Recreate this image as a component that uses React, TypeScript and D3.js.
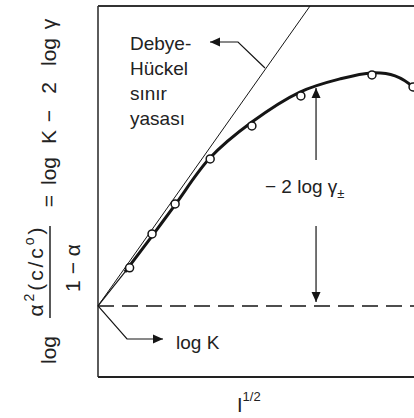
import React from "react";
import * as d3 from "d3";

// Experimental points: I^(1/2) vs log[α²(c/c°)/(1−α)] (arbitrary units)
const sqrtI = [0.1, 0.171, 0.244, 0.355, 0.487, 0.642, 0.867, 0.997];
const logQ = [0.127, 0.24, 0.34, 0.49, 0.6, 0.7, 0.77, 0.73];

// Smooth fitted curve through the data
const fitX = [0.085, 0.171, 0.244, 0.354, 0.487, 0.639, 0.766, 0.867, 0.94, 1.0, 1.03];
const fitY = [0.113, 0.233, 0.337, 0.493, 0.613, 0.713, 0.757, 0.777, 0.767, 0.727, 0.685];

// Debye–Hückel limiting law (straight line from log K)
const dhX = [0, 0.671];
const dhY = [0, 1];

const logK = 0;
const xDomain = [0, 1];
const yDomain = [-0.237, 1];

// y-axis label pieces, read bottom to top: [text, centre y, baseline x]
const yLabelWords: [string, number, number][] = [
  ["log", 350, 56],
  ["=", 201, 56],
  ["log", 171, 56],
  ["K", 137, 56],
  ["−", 116, 56],
  ["2", 88, 56],
  ["log", 52, 56],
  ["γ", 24, 56],
];

const W = 414;
const H = 418;

export default function App() {
  const x = d3.scaleLinear().domain(xDomain).range([98, 414]);
  const y = d3.scaleLinear().domain(yDomain).range([377, 6]);

  const line = d3
    .line<[number, number]>()
    .x((d) => x(d[0]))
    .y((d) => y(d[1]));
  const smooth = d3
    .line<[number, number]>()
    .x((d) => x(d[0]))
    .y((d) => y(d[1]))
    .curve(d3.curveCatmullRom.alpha(0.5));

  const fitPts: [number, number][] = fitX.map((v, i) => [v, fitY[i]]);
  const dhPts: [number, number][] = dhX.map((v, i) => [v, dhY[i]]);

  const x0 = x(0);
  const yK = y(logK);
  const arrowX = x(0.69);
  const font = "Liberation Sans, Arial, Helvetica, sans-serif";
  const ink = "#151515";

  return (
    <svg
      width={W}
      height={H}
      style={{ position: "absolute", left: 0, top: 0, background: "#fff" }}
      fontFamily={font}
    >
      <defs>
        <marker
          id="ah"
          viewBox="0 0 10 10"
          refX="10"
          refY="5"
          markerWidth="10"
          markerHeight="10"
          markerUnits="userSpaceOnUse"
          orient="auto"
        >
          <path d="M0,0.5 L10,5 L0,9.5 Z" fill={ink} />
        </marker>
      </defs>

      {/* frame */}
      <line x1={x0} x2={x0} y1={y(yDomain[1])} y2={y(yDomain[0])} stroke="#333" strokeWidth={1.6} />
      <line x1={x0} x2={W} y1={y(yDomain[1])} y2={y(yDomain[1])} stroke="#333" strokeWidth={2} />
      <line x1={x0} x2={W} y1={y(yDomain[0])} y2={y(yDomain[0])} stroke="#222" strokeWidth={2} />

      {/* log K dashed line */}
      <line x1={x0} x2={W} y1={yK} y2={yK} stroke={ink} strokeWidth={1.5} strokeDasharray="16 8" />

      {/* Debye-Hückel limiting law */}
      <path d={line(dhPts) || ""} fill="none" stroke={ink} strokeWidth={1} />

      {/* fitted curve */}
      <path d={smooth(fitPts) || ""} fill="none" stroke={ink} strokeWidth={3} />
      <path d={line([[0, 0], fitPts[0]]) || ""} fill="none" stroke={ink} strokeWidth={1.2} />

      {/* data points */}
      {sqrtI.map((v, i) => (
        <circle key={i} cx={x(v)} cy={y(logQ[i])} r={4} fill="#fff" stroke={ink} strokeWidth={1.5} />
      ))}

      {/* Debye-Hückel label arrow */}
      <path d="M265,68 L238,42 L210,42" fill="none" stroke={ink} strokeWidth={1.2} markerEnd="url(#ah)" />
      <g fontSize={19} fill="#222">
        <text x={130} y={50}>Debye-</text>
        <text x={130} y={75}>Hückel</text>
        <text x={130} y={100}>sınır</text>
        <text x={130} y={125}>yasası</text>
      </g>

      {/* -2 log gamma arrows */}
      <line x1={arrowX} x2={arrowX} y1={160} y2={88} stroke={ink} strokeWidth={1.2} markerEnd="url(#ah)" />
      <line x1={arrowX} x2={arrowX} y1={226} y2={302} stroke={ink} strokeWidth={1.2} markerEnd="url(#ah)" />
      <text x={265} y={193} fontSize={19} fill="#222">
        − 2 log γ<tspan fontSize={13} dy={5}>±</tspan>
      </text>

      {/* log K label arrow */}
      <path d={`M${x0},${yK} L127,339 L163,339`} fill="none" stroke={ink} strokeWidth={1.2} markerEnd="url(#ah)" />
      <text x={176} y={349} fontSize={19} fill="#222">log K</text>

      {/* x axis label */}
      <text x={237} y={412} fontSize={20} fill="#222">
        I<tspan fontSize={13} dy={-11}>1/2</tspan>
      </text>

      {/* y axis label */}
      <g fill="#222" fontSize={21}>
        {yLabelWords.map(([t, cy, bx], i) => (
          <text key={i} transform={`translate(${bx},${cy}) rotate(-90)`} textAnchor="middle">
            {t}
          </text>
        ))}
        <text transform="translate(43,272) rotate(-90)" textAnchor="middle" textLength={89} lengthAdjust="spacing">
          α<tspan fontSize={14} dy={-9}>2</tspan>
          <tspan dy={9}>(c/c</tspan>
          <tspan fontSize={14} dy={-9}>o</tspan>
          <tspan dy={9}>)</tspan>
        </text>
        <line x1={50} x2={50} y1={226} y2={318} stroke="#222" strokeWidth={1.5} />
        <text transform="translate(80,268) rotate(-90)" textAnchor="middle">
          1 − α
        </text>
      </g>
    </svg>
  );
}
